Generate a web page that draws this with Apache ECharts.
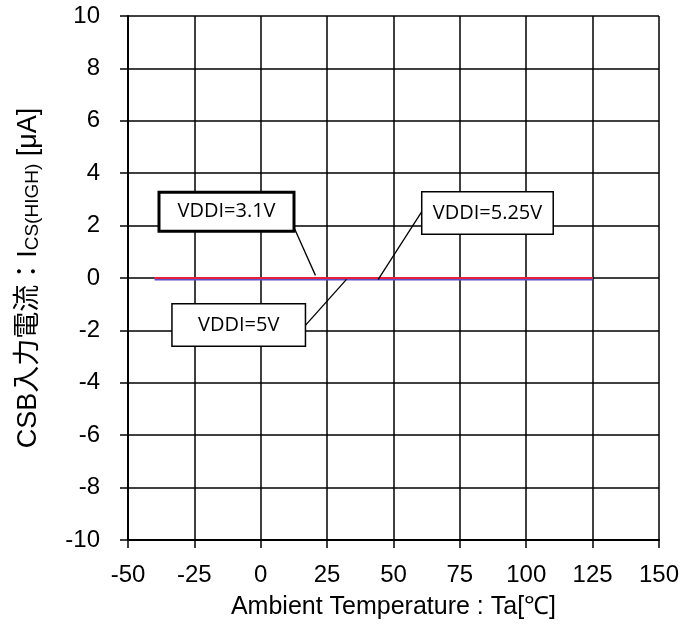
<!DOCTYPE html>
<html>
<head>
<meta charset="utf-8">
<script src="https://cdn.jsdelivr.net/npm/echarts@6/dist/echarts.min.js"></script>
<style>html,body{margin:0;padding:0;background:#fff}#c{width:682px;height:635px}</style>
</head>
<body>
<div id="c"></div>
<script>
// Data
const temps = [-40, 25, 85, 125];
const seriesNames = ['VDDI=3.1V', 'VDDI=5V', 'VDDI=5.25V'];
const vddi31 = [0, 0, 0, 0];
const vddi5 = [0, 0, 0, 0];
const vddi525 = [0, 0, 0, 0];
const xTicks = { min: -50, max: 150, step: 25 };
const yTicks = { min: -10, max: 10, step: 2 };
// annotation boxes (data coords of box centre) and leader lines (data coords)
const boxCenters = [[-12.9, 2.53], [-8.3, -1.79], [85.4, 2.48]];
const leaderStarts = [[11.6, 2.14], [16.9, -1.8], [60.6, 2.52]];
const leaderEnds = [[20.6, 0.1], [32.3, -0.05], [44.2, -0.06]];

const chart = echarts.init(document.getElementById('c'), null, { renderer: 'canvas' });
const sansFont = '"Liberation Sans", Arial, sans-serif';
const boxFont = '"Open Sans", sans-serif';

function mkData(vals) { return temps.map((t, i) => [t, vals[i]]); }

const boxStyles = [
  { bw: 3, w: 132, h: 36 },
  { bw: 1.5, w: 132, h: 41 },
  { bw: 1.5, w: 130, h: 41 }
];

const markPointData = seriesNames.map((n, i) => ({
  coord: boxCenters[i],
  symbol: 'rect',
  symbolSize: 0,
  label: {
    show: true,
    position: 'inside',
    formatter: n,
    color: '#000',
    fontFamily: boxFont,
    fontSize: 20,
    backgroundColor: '#fff',
    borderColor: '#000',
    borderWidth: boxStyles[i].bw,
    width: boxStyles[i].w,
    height: boxStyles[i].h,
    lineHeight: boxStyles[i].h,
    align: 'center',
    verticalAlign: 'middle'
  }
}));

const markLineData = leaderStarts.map((s, i) => [{ coord: s }, { coord: leaderEnds[i] }]);

chart.setOption({
  animation: false,
  backgroundColor: '#fff',
  grid: { left: 128, right: 23, top: 16, bottom: 95, containLabel: false },
  xAxis: {
    type: 'value',
    min: xTicks.min, max: xTicks.max, interval: xTicks.step,
    name: 'Ambient Temperature : Ta[℃]',
    nameLocation: 'middle', nameGap: 55,
    nameTextStyle: { fontFamily: sansFont, fontSize: 25, color: '#000' },
    axisLine: { show: true, onZero: false, lineStyle: { color: '#000', width: 2 } },
    axisTick: { show: true, length: 8, lineStyle: { color: '#000', width: 1.5 } },
    axisLabel: { margin: 23, fontFamily: sansFont, fontSize: 24, color: '#000' },
    splitLine: { show: true, lineStyle: { color: '#000', width: 1.5 } }
  },
  yAxis: {
    type: 'value',
    min: yTicks.min, max: yTicks.max, interval: yTicks.step,
    name: '{a|CSB入力電流：I}{b|CS(HIGH)}{a| [μA]}',
    nameLocation: 'middle', nameGap: 86, nameRotate: 90,
    nameTextStyle: {
      color: '#000',
      rich: {
        a: { fontFamily: sansFont + ', "Noto Sans CJK JP"', fontSize: 27, color: '#000' },
        b: { fontFamily: sansFont, fontSize: 19, color: '#000', padding: [8, 0, 0, 0] }
      }
    },
    axisLine: { show: true, onZero: false, lineStyle: { color: '#000', width: 2 } },
    axisTick: { show: true, length: 8, lineStyle: { color: '#000', width: 1.5 } },
    axisLabel: { margin: 28, fontFamily: sansFont, fontSize: 24, color: '#000' },
    splitLine: { show: true, lineStyle: { color: '#000', width: 1.5 } }
  },
  series: [
    {
      name: seriesNames[0], type: 'line', data: mkData(vddi31), showSymbol: false,
      lineStyle: { color: '#5a4fcf', width: 2 }, z: 3
    },
    {
      name: seriesNames[1], type: 'line', data: mkData(vddi5), showSymbol: false,
      lineStyle: { color: '#7b3fa8', width: 2 }, z: 4
    },
    {
      name: seriesNames[2], type: 'line', data: mkData(vddi525), showSymbol: false,
      lineStyle: { color: '#e8203a', width: 2, shadowColor: '#5a4fcf', shadowOffsetY: 1.5, shadowBlur: 0 },
      z: 5,
      markLine: {
        silent: true, symbol: 'none', animation: false,
        label: { show: false },
        lineStyle: { color: '#000', width: 1.3, type: 'solid' },
        data: markLineData, z: 6
      },
      markPoint: {
        silent: true, animation: false,
        data: markPointData, z: 7
      }
    }
  ]
});
</script>
</body>
</html>
